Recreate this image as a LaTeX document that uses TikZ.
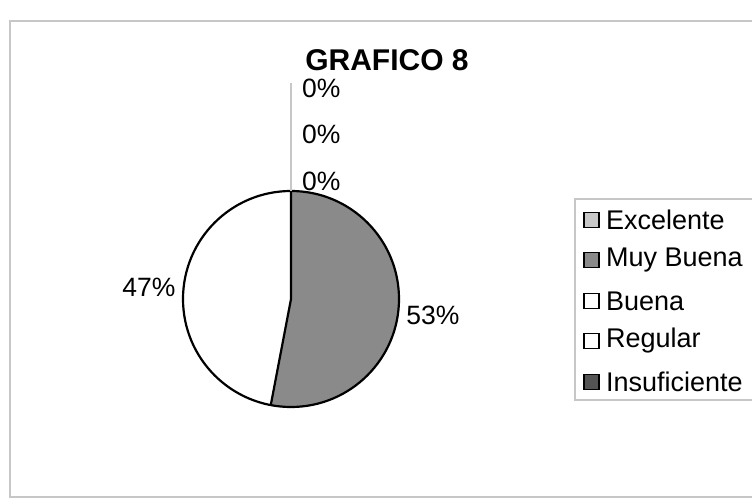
\documentclass[tikz,border=0pt]{standalone}
\usepackage{fontspec}
\setmainfont{Liberation Sans}
\usepackage{tikz}
\usetikzlibrary{positioning}
\definecolor{cexc}{rgb}{0.78,0.78,0.78}
\definecolor{cmuy}{rgb}{0.54,0.54,0.54}
\definecolor{cins}{rgb}{0.33,0.33,0.33}
\definecolor{cframe}{rgb}{0.78,0.78,0.78}
\tikzset{
x=1pt, y=1pt,
Frame/.style={
	draw=cframe,
	line width=1.2pt
},
Slice/.style={
	draw=black,
	line width=2.2pt
},
Leader/.style={
	draw=cframe,
	line width=1.2pt
},
Pct/.style={
	font=\fontsize{26.5}{28}\selectfont,
	inner sep=0pt
},
Title/.style={
	font=\fontsize{30}{32}\selectfont\bfseries,
	inner sep=0pt
},
Swatch/.style={
	draw=black,
	line width=1.8pt,
	minimum size=15pt,
	inner sep=0pt
},
Entry/.style={
	font=\fontsize{27}{28}\selectfont,
	anchor=west,
	inner sep=0pt
}
}

\begin{document}
\begin{tikzpicture}
	\useasboundingbox (0,0) rectangle (752,500);
	\clip (0,0) rectangle (752,500);
	\fill[white] (0,0) rectangle (752,500);
	\draw[Frame] (10,3) rectangle (770,479);

	\node[Title] (title) at (387,440) {GRAFICO 8};

	% pie
	\coordinate (O) at (291,201);
	\path (O) ++(90:108) coordinate (Top);
	\path (O) ++(-100.8:108) coordinate (Bot);
	\coordinate (LeadEnd) at (291,417);
	\fill[cmuy] (Top) arc[start angle=90, end angle=-100.8, radius=108] -- (O) -- cycle;
	\draw[Slice] (O) circle[radius=108];
	\draw[Slice] (Top) -- (O) -- (Bot);
	\draw[Leader] (Top) -- (LeadEnd);

	\node[Pct, anchor=west] (P1) at (302,412) {0\%};
	\node[Pct, anchor=west] (P2) at (302,366) {0\%};
	\node[Pct, anchor=west] (P3) at (302,319) {0\%};
	\node[Pct] (P4) at (149,213) {47\%};
	\node[Pct] (P5) at (433,185) {53\%};

	% legend
	\draw[Frame] (575,100) rectangle (770,301);
	\node[Swatch, fill=cexc] (S1) at (591.5,280) {};
	\node[Swatch, fill=cmuy] (S2) at (591.5,240) {};
	\node[Swatch, fill=white] (S3) at (591.5,199) {};
	\node[Swatch, fill=white] (S4) at (591.5,159) {};
	\node[Swatch, fill=cins] (S5) at (591.5,118) {};
	\node[Entry, right=6pt of S1] (E1) {Excelente};
	\node[Entry, right=6pt of S2] (E2) {Muy Buena};
	\node[Entry, right=6pt of S3] (E3) {Buena};
	\node[Entry, right=6pt of S4] (E4) {Regular};
	\node[Entry, right=6pt of S5] (E5) {Insuficiente};
\end{tikzpicture}
\end{document}
